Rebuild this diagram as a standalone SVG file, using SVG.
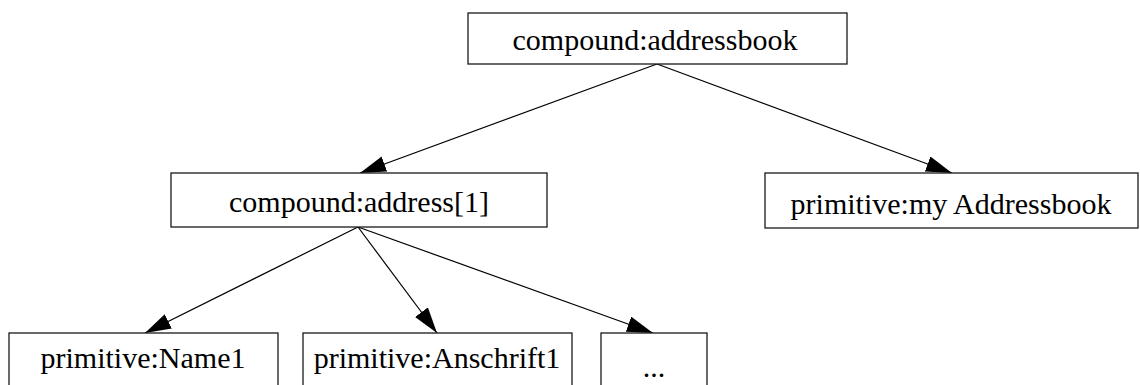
<svg xmlns="http://www.w3.org/2000/svg" width="1140" height="385" viewBox="0 0 1140 385">
  <defs>
    <marker id="arrow" markerUnits="userSpaceOnUse" markerWidth="28" markerHeight="18" refX="26" refY="8" orient="auto">
      <path d="M0,0 L26,8 L0,16 z" fill="#000"/>
    </marker>
    <style>
      .box { fill: #fff; stroke: #1a1a1a; stroke-width: 1.3; }
      .lbl { font-family: 'Liberation Serif', 'DejaVu Serif', serif; font-size: 30px; fill: #000; text-anchor: middle; }
      .edge { stroke: #000; stroke-width: 1.2; fill: none; marker-end: url(#arrow); }
    </style>
  </defs>
  <rect width="1140" height="385" fill="#fff"/>
  <g id="connectors">
    <line class="edge" x1="657" y1="64" x2="360" y2="173"/>
    <line class="edge" x1="657" y1="64" x2="952" y2="173"/>
    <line class="edge" x1="358" y1="227" x2="145" y2="333"/>
    <line class="edge" x1="358" y1="227" x2="437" y2="333"/>
    <line class="edge" x1="358" y1="227" x2="653" y2="333"/>
  </g>
  <g id="addressbook">
    <rect class="box" x="468" y="13" width="379" height="51"/>
    <text class="lbl" font-family="Liberation Serif, serif" x="655" y="50">compound:addressbook</text>
  </g>
  <g id="address1">
    <rect class="box" x="171" y="173" width="376" height="54"/>
    <text class="lbl" font-family="Liberation Serif, serif" x="359" y="212">compound:address[1]</text>
  </g>
  <g id="myAddressbook">
    <rect class="box" x="765" y="173" width="373" height="55"/>
    <text class="lbl" font-family="Liberation Serif, serif" x="951" y="214">primitive:my Addressbook</text>
  </g>
  <g id="name1">
    <rect class="box" x="9" y="333" width="269" height="60"/>
    <text class="lbl" font-family="Liberation Serif, serif" x="143" y="368">primitive:Name1</text>
  </g>
  <g id="anschrift1">
    <rect class="box" x="303" y="333" width="269" height="60"/>
    <text class="lbl" font-family="Liberation Serif, serif" x="437" y="368">primitive:Anschrift1</text>
  </g>
  <g id="more">
    <rect class="box" x="601" y="333" width="106" height="60"/>
    <text class="lbl" font-family="Liberation Serif, serif" x="654" y="377">...</text>
  </g>
</svg>
